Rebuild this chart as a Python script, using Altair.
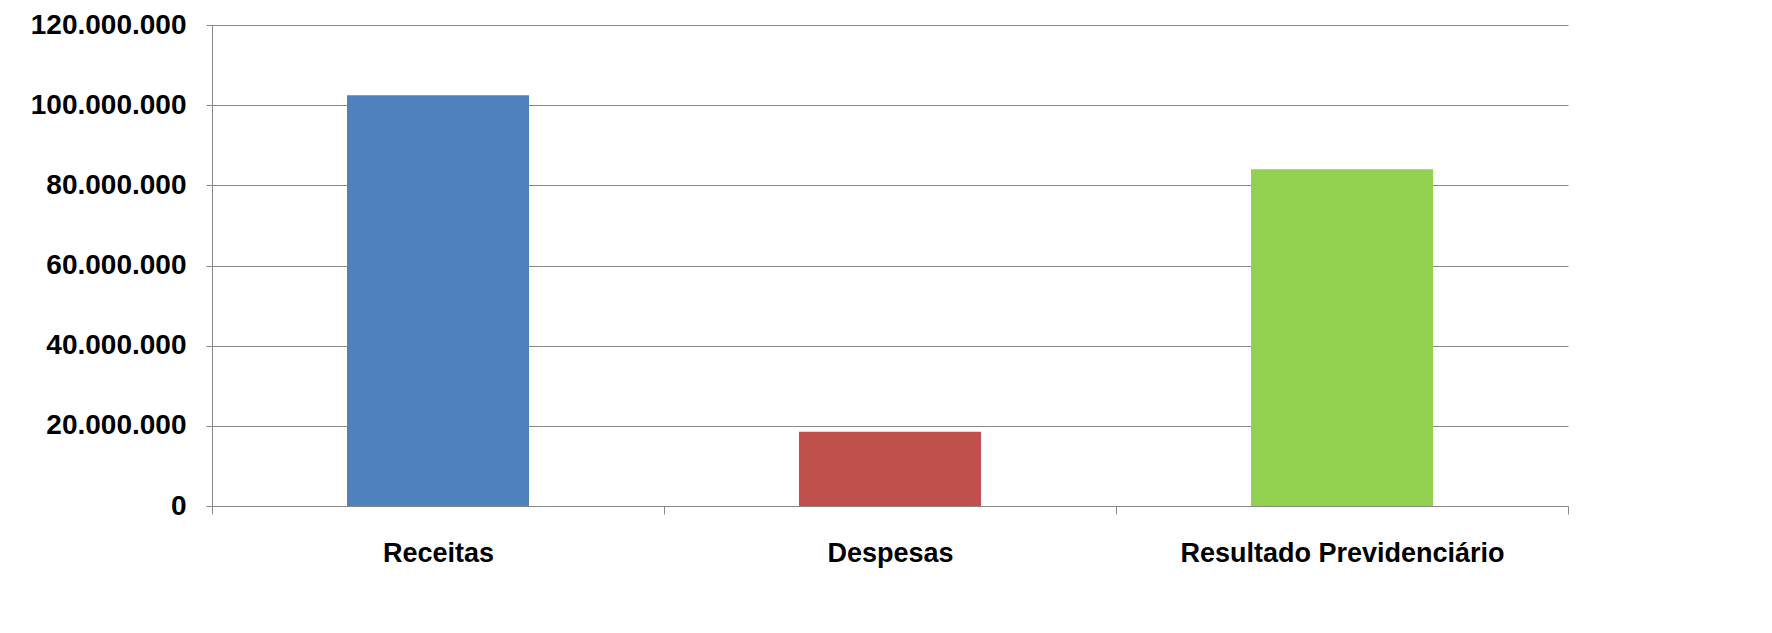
import altair as alt
import pandas as pd

categories = ["Receitas", "Despesas", "Resultado Previdenciário"]
values = [102500000, 18500000, 84000000]
colors = ["#4F81BD", "#C0504D", "#92D050"]

df = pd.DataFrame({"cat": categories, "val": values})

chart = alt.Chart(df).mark_bar(size=182).encode(
    x=alt.X("cat:N", sort=categories, title=None,
            scale=alt.Scale(paddingInner=0, paddingOuter=0),
            axis=alt.Axis(labelAngle=0, tickBand="extent", labelPadding=26, labelLimit=0,
                          tickSize=8, domainColor="#888", tickColor="#888",
                          labelFontSize=27, labelFontWeight="bold", labelColor="#000")),
    y=alt.Y("val:Q", title=None,
            scale=alt.Scale(domain=[0, 120000000]),
            axis=alt.Axis(values=[0, 20000000, 40000000, 60000000, 80000000, 100000000, 120000000],
                          labelExpr="replace(format(datum.value, ',.0f'), /,/g, '.')",
                          grid=True, gridColor="#888", domainColor="#888", tickColor="#888",
                          tickSize=6, labelPadding=20, labelFontSize=28, labelLimit=0,
                          labelFontWeight="bold", labelColor="#000")),
    color=alt.Color("cat:N", scale=alt.Scale(domain=categories, range=colors), legend=None),
).properties(
    width=1356, height=481,
    padding={"left": 22, "top": 3, "right": 5, "bottom": 5},
).configure(
    font="Liberation Sans"
).configure_view(stroke=None)

chart.save("out.html", embed_options={"renderer": "svg", "actions": False})
